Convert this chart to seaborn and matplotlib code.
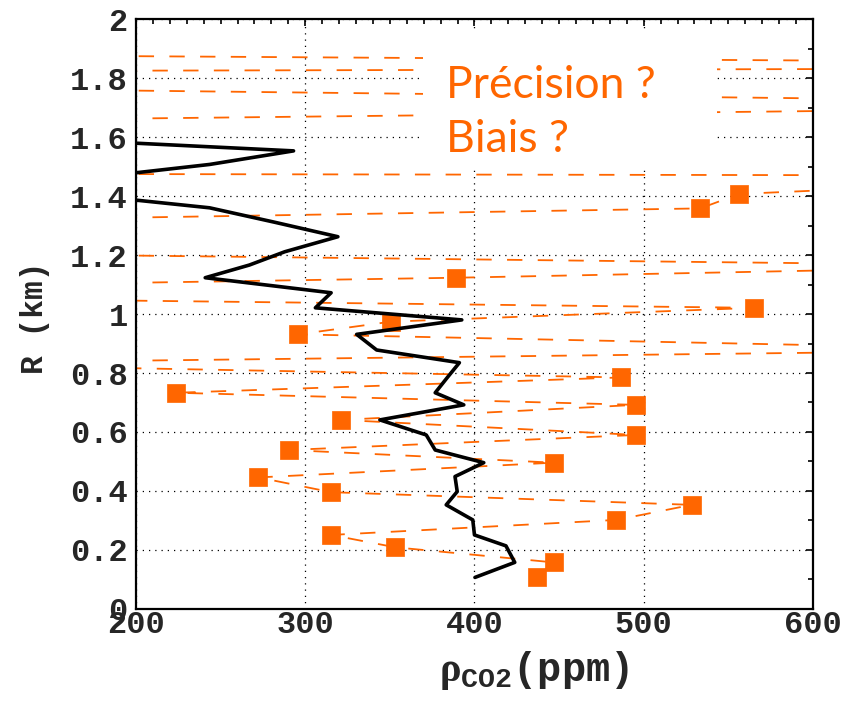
import numpy as np
import pandas as pd
import matplotlib
matplotlib.use("Agg")
import matplotlib.pyplot as plt
import seaborn as sns
from matplotlib.patches import Rectangle
from matplotlib.ticker import MultipleLocator, FuncFormatter

# black profile (model), R in km / CO2 in ppm
black_R = [0.107, 0.158, 0.214, 0.251, 0.302, 0.353, 0.398, 0.449, 0.496, 0.539,
           0.590, 0.641, 0.692, 0.733, 0.785, 0.835, 0.878, 0.931, 0.980, 1.021,
           1.072, 1.123, 1.166, 1.211, 1.262, 1.311, 1.360, 1.410, 1.460, 1.507,
           1.553, 1.600]
black_co2 = [400.3, 423.8, 418.6, 400.0, 399.0, 383.3, 389.8, 388.5, 405.5, 376.8,
             371.5, 344.1, 393.7, 376.8, 384.0, 391.1, 342.2, 330.4, 392.5, 306.0,
             315.3, 240.9, 267.0, 287.9, 319.3, 282.0, 243.5, 160.0, 171.0, 243.5,
             293.1, 125.0]

# orange retrievals (many fall outside the 200-600 window)
meas_R = [0.107, 0.158, 0.209, 0.251, 0.302, 0.353, 0.396, 0.446, 0.496, 0.539,
          0.590, 0.641, 0.692, 0.733, 0.785, 0.832, 0.878, 0.931, 0.974, 1.021,
          1.071, 1.123, 1.163, 1.210, 1.260, 1.310, 1.358, 1.407, 1.469, 1.477,
          1.644, 1.709, 1.777, 1.821, 1.833, 1.852, 1.885]
meas_co2 = [436.7, 446.8, 353.3, 315.3, 483.9, 528.3, 315.3, 272.3, 446.8, 290.4,
            495.7, 321.4, 495.7, 223.8, 486.6, 52.0, 740.0, 295.7, 350.7, 565.4,
            -190.0, 389.3, 740.0, 15.0, 60.0, 17.0, 533.4, 556.5, 802.0, -100.0,
            -100.0, 937.0, -100.0, -100.0, 800.0, 800.0, -100.0]

xticks = [200, 300, 400, 500, 600]
yticks = [0, 0.2, 0.4, 0.6, 0.8, 1, 1.2, 1.4, 1.6, 1.8, 2]

orange = "#ff6600"

sns.set_style("white")
plt.rcParams['font.family'] = ['Liberation Mono', 'DejaVu Sans']
plt.rcParams['font.weight'] = 'bold'
plt.rcParams['mathtext.fontset'] = 'custom'
plt.rcParams['mathtext.rm'] = 'Liberation Serif'
plt.rcParams['mathtext.bf'] = 'Liberation Mono:bold'

black = pd.DataFrame({'co2': black_co2, 'R': black_R})
meas = pd.DataFrame({'co2': meas_co2, 'R': meas_R})

fig = plt.figure(figsize=(8.59, 7.02), dpi=100)
ax = fig.add_axes([0.1583, 0.1325, 0.7881, 0.8404])

sns.lineplot(data=meas, x='co2', y='R', sort=False, estimator=None, ax=ax,
             color=orange, linewidth=1.3, linestyle=(0, (8.5, 8.5)), zorder=2)
sns.scatterplot(data=meas, x='co2', y='R', ax=ax, marker='s', s=175,
                color=orange, edgecolor=orange, linewidth=0.5, zorder=4)
sns.lineplot(data=black, x='co2', y='R', sort=False, estimator=None, ax=ax,
             color='black', linewidth=2.6, zorder=5)

# white box behind the annotation
ax.add_patch(Rectangle((369.6, 1.498), 173.7, 0.46, facecolor='white',
                       edgecolor='none', zorder=3))
ax.text(383, 1.732, 'Précision ?', color=orange, fontsize=32, family='Lato',
        fontweight='normal', va='baseline', zorder=6)
ax.text(383, 1.549, 'Biais ?', color=orange, fontsize=32, family='Lato',
        fontweight='normal', va='baseline', zorder=6)

ax.set_xlim(200, 600)
ax.set_ylim(0, 2)
ax.set_xticks(xticks)
ax.set_yticks(yticks)
ax.xaxis.set_minor_locator(MultipleLocator(10))
ax.yaxis.set_minor_locator(MultipleLocator(0.1))
ax.yaxis.set_major_formatter(FuncFormatter(lambda v, p: '%g' % v))
ax.tick_params(which='both', direction='in', top=True, right=True,
               color='black', width=1.2)
ax.tick_params(which='major', length=5, labelsize=23, pad=6)
ax.tick_params(axis='x', which='major', pad=1)
ax.tick_params(which='minor', length=3.5)
for lab in ax.get_xticklabels() + ax.get_yticklabels():
    lab.set_fontweight('bold')

ax.grid(True, which='major', color='black', linestyle=(0, (1, 4)), linewidth=0.9)
ax.set_axisbelow(True)
for sp in ax.spines.values():
    sp.set_linewidth(1.6)
    sp.set_color('black')

ax.set_ylabel('R (km)', fontsize=22.5, fontweight='bold')
ax.yaxis.set_label_coords(-0.127, 0.493)
ax.set_xlabel(r'$\mathrm{\rho}_{\mathbf{CO2}}$(ppm)', fontsize=29, fontweight='bold')
ax.xaxis.set_label_coords(0.588, -0.068)

fig.savefig('out.png', dpi=100)
